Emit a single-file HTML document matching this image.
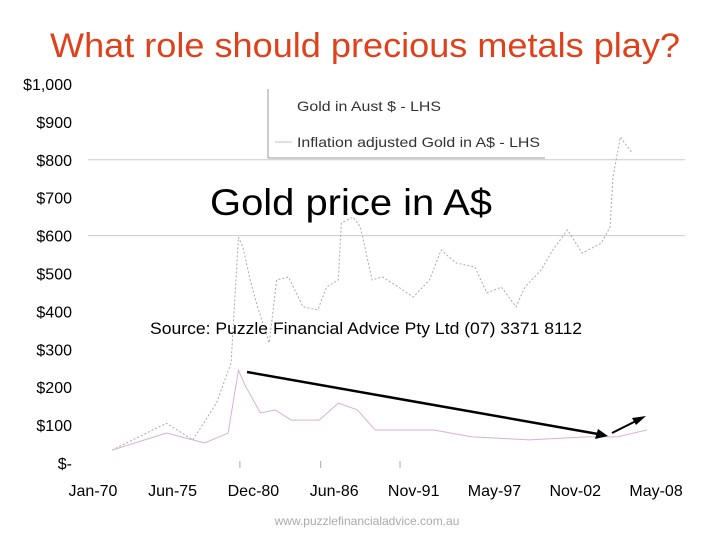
<!DOCTYPE html>
<html><head><meta charset="utf-8"><style>
body{margin:0;background:#fff;}
svg text{font-family:"Liberation Sans",sans-serif;}
</style></head><body>
<svg id="chart" width="720" height="540" viewBox="0 0 720 540" xmlns="http://www.w3.org/2000/svg">
<text x="50" y="57" font-size="34" fill="#e0401a" textLength="630" lengthAdjust="spacingAndGlyphs">What role should precious metals play?</text>
<g id="yaxis"></g>
<g id="xaxis"></g>
<g id="grid"></g>
<g id="series"></g>
<g>
<line x1="268" y1="89" x2="268" y2="158" stroke="#999" stroke-width="1"/>
<line x1="268" y1="158" x2="545" y2="158" stroke="#999" stroke-width="1"/>
<text x="297" y="111" font-size="14" fill="#333" textLength="144" lengthAdjust="spacingAndGlyphs">Gold in Aust $ - LHS</text>
<line x1="275" y1="142" x2="292" y2="142" stroke="#d8b0d8" stroke-width="1"/>
<text x="297" y="147" font-size="14" fill="#333" textLength="243" lengthAdjust="spacingAndGlyphs">Inflation adjusted Gold in A$ - LHS</text>
</g>
<text x="210" y="215" font-size="37" fill="#000" textLength="282" lengthAdjust="spacingAndGlyphs">Gold price in A$</text>
<text x="150" y="334" font-size="17" fill="#000" textLength="432" lengthAdjust="spacingAndGlyphs">Source: Puzzle Financial Advice Pty Ltd (07) 3371 8112</text>
<g>
<line x1="247" y1="372" x2="598" y2="434" stroke="#000" stroke-width="2.5"/>
<polygon points="608,436 595,439 598,429" fill="#000"/>
<line x1="612" y1="433" x2="638" y2="420" stroke="#000" stroke-width="2"/>
<polygon points="646,416 636,425 632,418" fill="#000"/>
</g>
<text x="367" y="525" font-size="12" fill="#aaa" text-anchor="middle">www.puzzlefinancialadvice.com.au</text>
</svg>
<script>
const yTicks=[0,100,200,300,400,500,600,700,800,900,1000];
const yTickLabels=["$-","$100","$200","$300","$400","$500","$600","$700","$800","$900","$1,000"];
const xTickYears=[1970,1975.42,1980.92,1986.42,1991.83,1997.33,2002.83,2008.33];
const xTickLabels=["Jan-70","Jun-75","Dec-80","Jun-86","Nov-91","May-97","Nov-02","May-08"];
const goldYears=[1971.3,1975.0,1976.8,1978.4,1979.4,1979.9,1980.2,1980.7,1981.2,1982.0,1982.5,1983.3,1984.3,1985.3,1985.9,1986.7,1986.9,1987.7,1988.2,1989.0,1989.7,1990.8,1991.8,1992.9,1993.7,1994.7,1996.0,1996.8,1997.8,1998.8,1999.4,2000.5,2001.3,2002.3,2003.3,2004.6,2005.2,2005.4,2005.9,2006.7];
const goldValues=[34,105,61,158,264,596,570,483,412,317,483,491,412,404,464,483,633,649,623,483,491,464,438,483,562,528,517,449,464,412,464,509,562,615,554,580,623,755,860,818];
const realYears=[1971.3,1975.0,1977.6,1979.2,1979.9,1980.4,1981.4,1982.4,1983.5,1985.4,1986.7,1988.0,1989.2,1993.2,1995.8,1999.7,2003.6,2005.7,2007.7];
const realValues=[34,79,53,79,245,201,132,140,113,113,158,140,87,87,69,61,69,69,87];
const X=y=>93+(y-1970)*14.69;
const Y=v=>463-v*0.379;
const NS="http://www.w3.org/2000/svg";
function mk(p,t,a){const e=document.createElementNS(NS,t);for(const k in a)e.setAttribute(k,a[k]);p.appendChild(e);return e;}
const ya=document.getElementById('yaxis'),xa=document.getElementById('xaxis'),gr=document.getElementById('grid'),se=document.getElementById('series');
yTicks.forEach((v,i)=>{const t=mk(ya,'text',{x:72,y:Y(v)+6,'font-size':16,'text-anchor':'end',fill:'#000'});t.textContent=yTickLabels[i];

});
[600,800].forEach(v=>{const l=mk(gr,'line',{x1:88,x2:685,y1:Y(v),y2:Y(v),stroke:'#ccc','stroke-width':1});

});
xTickYears.forEach((yr,i)=>{const t=mk(xa,'text',{x:X(yr),y:496,'font-size':16,'text-anchor':'middle',fill:'#000'});t.textContent=xTickLabels[i];

});
[1980.9,1986.4,1991.8].forEach(yr=>{const l=mk(xa,'line',{x1:X(yr-0.9),x2:X(yr-0.9),y1:461,y2:468,stroke:'#aaa'});

});
const gp=mk(se,'polyline',{points:goldYears.map((y,i)=>X(y)+','+Y(goldValues[i])).join(' '),fill:'none',stroke:'#aaa','stroke-width':1,'stroke-dasharray':'2 2'});


const rp=mk(se,'polyline',{points:realYears.map((y,i)=>X(y)+','+Y(realValues[i])).join(' '),fill:'none',stroke:'#d8b0d8','stroke-width':1});


</script>
</body></html>
